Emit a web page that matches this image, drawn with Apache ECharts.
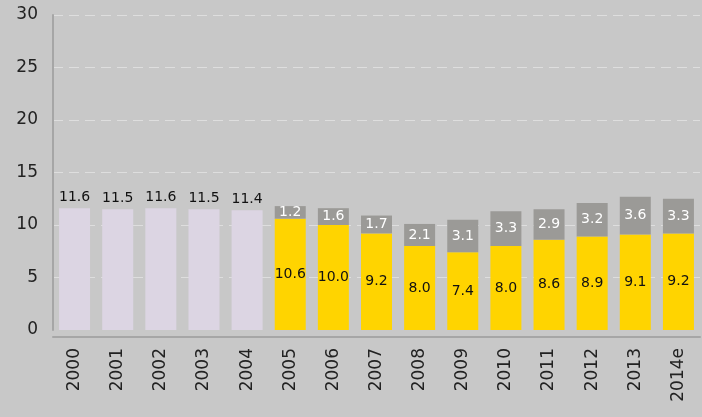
<!DOCTYPE html>
<html>
<head>
<meta charset="utf-8">
<script src="https://cdn.jsdelivr.net/npm/echarts@6/dist/echarts.min.js"></script>
<style>
  html, body { margin: 0; padding: 0; background: #c8c8c8; }
  #chart { width: 702px; height: 417px; }
</style>
</head>
<body>
<div id="chart"></div>
<script>
var years = ['2000', '2001', '2002', '2003', '2004', '2005', '2006', '2007', '2008', '2009', '2010', '2011', '2012', '2013', '2014e'];
var earlyValues = [11.6, 11.5, 11.6, 11.5, 11.4, '-', '-', '-', '-', '-', '-', '-', '-', '-', '-'];
var baseValues = ['-', '-', '-', '-', '-', 10.6, 10.0, 9.2, 8.0, 7.4, 8.0, 8.6, 8.9, 9.1, 9.2];
var topValues = ['-', '-', '-', '-', '-', 1.2, 1.6, 1.7, 2.1, 3.1, 3.3, 2.9, 3.2, 3.6, 3.3];
var yTicks = [0, 5, 10, 15, 20, 25, 30];

var fmt = function (p) { return p.value.toFixed(1); };
var font = 'DejaVu Sans';

var chart = echarts.init(document.getElementById('chart'));
chart.setOption({
  backgroundColor: '#c8c8c8',
  animation: false,
  grid: { left: 53, right: 2, top: 15, bottom: 87 },
  xAxis: {
    type: 'category',
    data: years,
    offset: 7,
    axisLine: { onZero: false, lineStyle: { color: '#a6a6a6', width: 2 } },
    axisTick: { show: false },
    axisLabel: { rotate: 90, fontFamily: font, fontSize: 17, color: '#222', margin: 11 }
  },
  yAxis: {
    type: 'value',
    min: yTicks[0],
    max: yTicks[yTicks.length - 1],
    interval: 5,
    axisLine: { show: true, lineStyle: { color: '#a6a6a6', width: 2 } },
    axisTick: { show: false },
    axisLabel: { fontFamily: font, fontSize: 17, color: '#222', margin: 15, padding: [3, 0, 0, 0] },
    splitLine: { showMinLine: false, lineStyle: { color: '#dedede', type: [10, 6], width: 1 } }
  },
  series: [
    {
      name: 'early', type: 'bar', stack: 's', barWidth: 31,
      data: earlyValues,
      itemStyle: { color: '#dcd5e3' },
      label: { show: true, position: 'top', formatter: fmt, fontFamily: font, fontSize: 14, color: '#111', distance: 4 }
    },
    {
      name: 'base', type: 'bar', stack: 's', barWidth: 31,
      data: baseValues,
      itemStyle: { color: '#ffd400' },
      label: { show: true, position: 'inside', formatter: fmt, fontFamily: font, fontSize: 14, color: '#111' }
    },
    {
      name: 'top', type: 'bar', stack: 's', barWidth: 31,
      data: topValues,
      itemStyle: { color: '#9b9a97' },
      label: { show: true, position: 'inside', formatter: fmt, fontFamily: font, fontSize: 14, color: '#fff' }
    }
  ]
});
</script>
</body>
</html>
